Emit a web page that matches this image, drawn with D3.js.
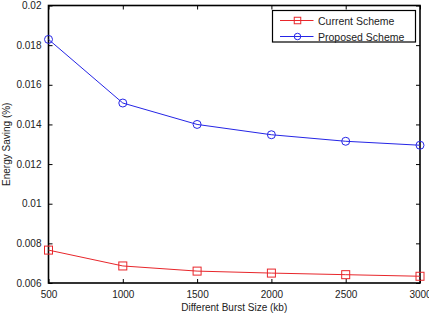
<!DOCTYPE html>
<html>
<head>
<meta charset="utf-8">
<script src="https://cdn.jsdelivr.net/npm/d3@7"></script>
<style>
  html, body { margin: 0; padding: 0; background: #fff; }
  svg { display: block; font-family: "Liberation Sans", Arial, sans-serif; }
</style>
</head>
<body>
<svg id="chart" width="429" height="314"></svg>
<script>
const burstSizes = [500, 1000, 1500, 2000, 2500, 3000];
const currentScheme = [0.00766, 0.00686, 0.0066, 0.0065, 0.00642, 0.00634];
const proposedScheme = [0.01829, 0.01508, 0.0140, 0.01348, 0.01315, 0.01295];
const xTicks = [500, 1000, 1500, 2000, 2500, 3000];
const yTicks = [0.006, 0.008, 0.01, 0.012, 0.014, 0.016, 0.018, 0.02];
const yTickLabels = ["0.006", "0.008", "0.01", "0.012", "0.014", "0.016", "0.018", "0.02"];

const svg = d3.select("#chart");
const margin = { left: 48.5, right: 9, top: 5.5, bottom: 31 };
const W = 429, H = 314;
const innerW = W - margin.left - margin.right;
const innerH = H - margin.top - margin.bottom;
const g = svg.append("g").attr("transform", `translate(${margin.left}, ${margin.top})`);

const x = d3.scaleLinear().domain([500, 3000]).range([0, innerW]);
const y = d3.scaleLinear().domain([0.006, 0.02]).range([innerH, 0]);

// inward ticks, MATLAB style
const tickLen = 4;
const styleAxis = sel => {
  sel.select(".domain").remove();
  sel.selectAll(".tick line").attr("stroke", "#000").attr("stroke-width", 1);
  sel.selectAll(".tick text").attr("fill", "#222").style("font-size", "10px");
};
g.append("g").attr("transform", `translate(0, ${innerH})`)
  .call(d3.axisBottom(x).tickValues(xTicks).tickSizeInner(-tickLen).tickSizeOuter(0).tickPadding(8).tickFormat(d3.format("d")))
  .call(styleAxis);
g.append("g")
  .call(d3.axisTop(x).tickValues(xTicks).tickSizeInner(-tickLen).tickSizeOuter(0).tickFormat(""))
  .call(styleAxis);
g.append("g")
  .call(d3.axisLeft(y).tickValues(yTicks).tickSizeInner(-tickLen).tickSizeOuter(0).tickPadding(7).tickFormat((d, i) => yTickLabels[i]))
  .call(styleAxis);
g.append("g").attr("transform", `translate(${innerW}, 0)`)
  .call(d3.axisRight(y).tickValues(yTicks).tickSizeInner(-tickLen).tickSizeOuter(0).tickFormat(""))
  .call(styleAxis);

// frame
g.append("rect").attr("width", innerW).attr("height", innerH)
  .attr("fill", "none").attr("stroke", "#000").attr("stroke-width", 1.6);

const series = [
  { name: "Current Scheme", values: currentScheme, color: "#e8262b", marker: "square" },
  { name: "Proposed Scheme", values: proposedScheme, color: "#2525e6", marker: "circle" }
];

const line = d3.line().x((d, i) => x(burstSizes[i])).y(d => y(d));

function drawMarker(sel, type, color, size) {
  if (type === "square") {
    sel.append("rect").attr("x", -size / 2).attr("y", -size / 2).attr("width", size).attr("height", size)
      .attr("fill", "none").attr("stroke", color).attr("stroke-width", 1);
  } else {
    sel.append("circle").attr("r", size / 2)
      .attr("fill", "none").attr("stroke", color).attr("stroke-width", 1);
  }
}

series.forEach(s => {
  g.append("path").datum(s.values).attr("d", line)
    .attr("fill", "none").attr("stroke", s.color).attr("stroke-width", 1);
  s.values.forEach((v, i) => {
    const m = g.append("g").attr("transform", `translate(${x(burstSizes[i])}, ${y(v)})`);
    drawMarker(m, s.marker, s.color, 8);
  });
});

// legend
const lg = svg.append("g").attr("transform", "translate(272.5, 10.5)");
lg.append("rect").attr("width", 143).attr("height", 31.5)
  .attr("fill", "#fff").attr("stroke", "#000").attr("stroke-width", 1.2);
series.forEach((s, i) => {
  const row = lg.append("g").attr("transform", `translate(0, ${10 + i * 16})`);
  row.append("line").attr("x1", 7.5).attr("x2", 41).attr("stroke", s.color).attr("stroke-width", 1);
  const m = row.append("g").attr("transform", "translate(25, 0)");
  drawMarker(m, s.marker, s.color, 6.5);
  row.append("text").attr("x", 45.5).attr("y", 4).attr("fill", "#222")
    .style("font-size", "10.5px").text(s.name);
});

// axis labels
svg.append("text").attr("x", margin.left + innerW / 2).attr("y", 311)
  .attr("text-anchor", "middle").attr("fill", "#222").style("font-size", "10px")
  .text("Different Burst Size (kb)");
svg.append("text").attr("transform", `translate(9.5, ${margin.top + innerH / 2}) rotate(-90)`)
  .attr("text-anchor", "middle").attr("fill", "#222").style("font-size", "10px")
  .text("Energy Saving (%)");
</script>
</body>
</html>
